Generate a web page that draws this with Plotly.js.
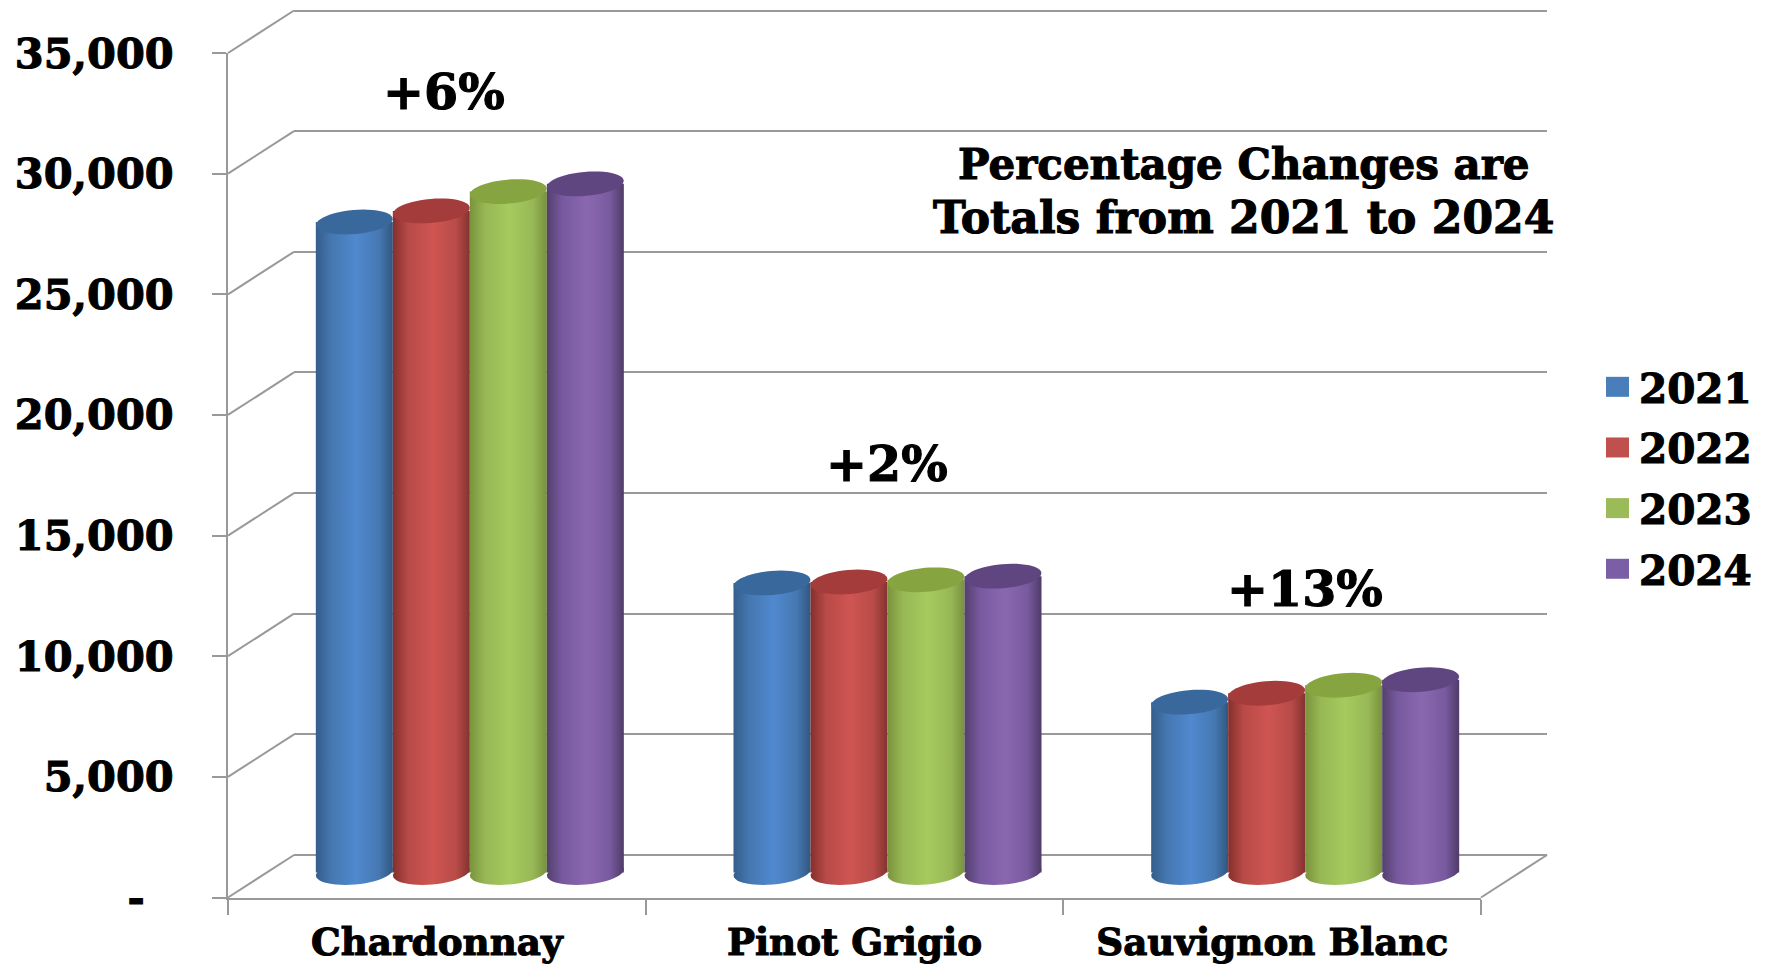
<!DOCTYPE html>
<html>
<head>
<meta charset="utf-8">
<script src="https://cdn.plot.ly/plotly-3.0.1.min.js"></script>
<style>html,body{margin:0;padding:0;background:#fff}#chart{width:1770px;height:966px}
#chart text{stroke:#000;stroke-width:1.1px}</style>
</head>
<body>
<div id="chart"></div>
<script>
const categories = ['Chardonnay', 'Pinot Grigio', 'Sauvignon Blanc'];
const years = ['2021', '2022', '2023', '2024'];
const v2021 = [26960, 12000, 7060];
const v2022 = [27420, 12040, 7430];
const v2023 = [28220, 12130, 7760];
const v2024 = [28540, 12280, 7990];
const tickValues = [0, 5000, 10000, 15000, 20000, 25000, 30000, 35000];
const tickLabels = ['-\u00a0\u00a0', '5,000', '10,000', '15,000', '20,000', '25,000', '30,000', '35,000'];
const changeLabels = ['+6%', '+2%', '+13%'];
const noteLine1 = 'Percentage Changes are';
const noteLine2 = 'Totals from 2021 to 2024';

const seriesValues = [v2021, v2022, v2023, v2024];
const W = 1770, H = 966;
const front = {l: 228, r: 1481, y0: 897.5, y1: 53};
const depth = {dx: 66, dy: 42.5};
const plane = {dx: 33, dy: 25};
const pxPerUnit = (front.y0 - front.y1) / 35000;
const pxPerCat = (front.r - front.l) / 3;
const barPx = 77;
const barFrac = barPx / pxPerCat;
const gridColor = '#999999';
const swatch = ['#4a7ebb', '#c0504d', '#9bbb59', '#7b5fa6'];
const capColor = ['#38689c', '#a33c3a', '#86a540', '#5f4680'];
const stops = [
  ['#345d8a', '#4577b0', '#5089cf', '#4678b2', '#315780'],
  ['#842f2d', '#b84a47', '#cf5552', '#b84b48', '#843230'],
  ['#7a933d', '#97b855', '#a6ca5e', '#98b856', '#78913e'],
  ['#53406c', '#77599f', '#8a68b0', '#785a9f', '#4f3b67']
];
const font = (size) => ({family: '"DejaVu Serif", serif', size: size, color: '#000', weight: 700});

function px(x) { return x / W; }
function py(y) { return 1 - y / H; }

const traces = years.map((yr, s) => ({
  type: 'bar', name: yr, x: categories, y: seriesValues[s],
  xaxis: 'x3', yaxis: 'y3', legendgroup: yr,
  marker: {color: swatch[s]}, hoverinfo: 'x+y+name'
}));
// Invisible carriers so that the front frame and back wall axes are drawn
['', '2'].forEach(n => traces.unshift({
  type: 'scatter', mode: 'markers', x: categories, y: v2021,
  xaxis: 'x' + n, yaxis: 'y' + n, showlegend: false, hoverinfo: 'skip',
  marker: {opacity: 0}
}));

function ellipsePath(cx, val) {
  const rx = barPx / 2, ry = 12, t = 5 * Math.PI / 180;
  let d = '';
  for (let k = 0; k < 48; k++) {
    const a = 2 * Math.PI * k / 48;
    const ex = rx * Math.cos(a), ey = ry * Math.sin(a);
    const dx = ex * Math.cos(t) - ey * Math.sin(t);
    const dy = ex * Math.sin(t) + ey * Math.cos(t);
    d += (k ? 'L' : 'M') + (cx + dx / pxPerCat).toFixed(4) + ',' + (val + dy / pxPerUnit).toFixed(1);
  }
  return d + 'Z';
}
const shapes = [];
const baseIdx = [];
years.forEach((yr, s) => categories.forEach((c, i) => {
  baseIdx.push({index: shapes.length, s: s});
  shapes.push({type: 'path', layer: 'below', xref: 'x3', yref: 'y3',
    path: ellipsePath(i + (s - 1.5) * barFrac, 0),
    fillcolor: swatch[s], line: {width: 0}});
}));
years.forEach((yr, s) => categories.forEach((c, i) => {
  shapes.push({type: 'path', layer: 'above', xref: 'x3', yref: 'y3',
    path: ellipsePath(i + (s - 1.5) * barFrac, seriesValues[s][i]),
    fillcolor: capColor[s], line: {width: 0}});
}));
tickValues.forEach(v => {
  const y = front.y0 - v * pxPerUnit;
  shapes.push({type: 'line', layer: 'below', xref: 'paper', yref: 'paper',
    x0: px(front.l), y0: py(y), x1: px(front.l + depth.dx), y1: py(y - depth.dy),
    line: {color: gridColor, width: 2}});
});
shapes.push({type: 'line', layer: 'below', xref: 'paper', yref: 'paper',
  x0: px(front.r), y0: py(front.y0), x1: px(front.r + depth.dx), y1: py(front.y0 - depth.dy),
  line: {color: gridColor, width: 2}});

const annPos = [[444, 92], [887, 464], [1305, 589]];
const annotations = changeLabels.map((t, i) => ({
  text: t, xref: 'paper', yref: 'paper', x: px(annPos[i][0]), y: py(annPos[i][1]),
  xanchor: 'center', yanchor: 'middle', showarrow: false, font: font(49)
}));
annotations.push({text: noteLine1, xref: 'paper', yref: 'paper', x: px(1244), y: py(165),
  xanchor: 'center', yanchor: 'middle', showarrow: false, font: font(42)});
annotations.push({text: noteLine2, xref: 'paper', yref: 'paper', x: px(1243), y: py(217),
  xanchor: 'center', yanchor: 'middle', showarrow: false, font: font(44)});

const pad = 1500;
const topGap = 4;
const hiddenX = {type: 'category', range: [-0.5, 2.5], showgrid: false, zeroline: false, showticklabels: false, ticks: '',
  categoryorder: 'array', categoryarray: categories};

const layout = {
  width: W, height: H, margin: {l: 0, r: 0, t: 0, b: 0},
  paper_bgcolor: '#fff', plot_bgcolor: 'rgba(0,0,0,0)',
  barmode: 'group', bargap: 1 - barFrac * 4, bargroupgap: 0,
  showlegend: true,
  legend: {x: px(1596), y: py(354), xanchor: 'left', yanchor: 'top', font: font(40.5), itemwidth: 33,
           tracegroupgap: 5, traceorder: 'grouped', itemclick: false, itemdoubleclick: false},
  xaxis: {type: 'category', categoryorder: 'array', categoryarray: categories,
    domain: [px(front.l), px(front.r)], range: [-0.5, 2.5], anchor: 'y',
    showline: true, linecolor: gridColor, linewidth: 2, showgrid: false, zeroline: false,
    ticks: 'outside', tickson: 'boundaries', ticklen: 15, tickwidth: 2, tickcolor: gridColor,
    tickfont: font(37.3), ticklabelstandoff: 11},
  yaxis: {domain: [py(front.y0), py(front.y1)], range: [0, 35000], anchor: 'x',
    tickmode: 'array', tickvals: tickValues, ticktext: tickLabels,
    showline: true, linecolor: gridColor, linewidth: 2, showgrid: false, zeroline: false,
    ticks: 'outside', ticklen: 14, tickwidth: 2, tickcolor: gridColor,
    tickfont: font(41.5), ticklabelstandoff: 30},
  xaxis2: Object.assign({}, hiddenX, {domain: [px(front.l + depth.dx), px(front.r + depth.dx)], anchor: 'y2'}),
  yaxis2: {domain: [py(front.y0 - depth.dy), py(front.y1 - depth.dy - topGap)], range: [0, 35000 + topGap / pxPerUnit], anchor: 'x2',
    tickmode: 'array', tickvals: tickValues, showticklabels: false, ticks: '',
    showgrid: true, gridcolor: gridColor, gridwidth: 2, zeroline: true, zerolinecolor: gridColor, zerolinewidth: 2,
    showline: false},
  xaxis3: Object.assign({}, hiddenX, {domain: [px(front.l + plane.dx), px(front.r + plane.dx)], anchor: 'y3'}),
  yaxis3: {range: [-pad, 36000], showgrid: false, zeroline: false, showticklabels: false, ticks: '', anchor: 'x3',
    domain: [py(front.y0 - plane.dy + pad * pxPerUnit), py(front.y0 - plane.dy - 36000 * pxPerUnit)]},
  shapes: shapes, annotations: annotations
};

function dress() {
  const gd = document.getElementById('chart');
  const svg = gd.querySelector('.main-svg');
  const defs = svg.querySelector('defs');
  const NS = 'http://www.w3.org/2000/svg';
  stops.forEach((st, s) => {
    const g = document.createElementNS(NS, 'linearGradient');
    g.setAttribute('id', 'cyl' + s);
    g.setAttribute('x1', '0'); g.setAttribute('x2', '1'); g.setAttribute('y1', '0'); g.setAttribute('y2', '0');
    [0, 0.2, 0.52, 0.82, 1].forEach((o, k) => {
      const e = document.createElementNS(NS, 'stop');
      e.setAttribute('offset', o); e.setAttribute('stop-color', st[k]);
      g.appendChild(e);
    });
    defs.appendChild(g);
  });
  gd.querySelectorAll('.barlayer .trace.bars').forEach((t, s) => {
    t.querySelectorAll('.point path').forEach(p => { p.style.fill = 'url(#cyl' + s + ')'; });
  });
  baseIdx.forEach(b => {
    const p = gd.querySelector('.shapelayer path[data-index="' + b.index + '"]');
    if (p) p.style.fill = 'url(#cyl' + b.s + ')';
  });
  gd.querySelectorAll('.legend .legendbar path, .legend .legendpoints path').forEach(p => {
    p.setAttribute('d', 'M11.5,10H-11.5V-10H11.5Z');
  });
}
Plotly.newPlot('chart', traces, layout, {displayModeBar: false, responsive: false}).then(dress);
</script>
</body>
</html>
